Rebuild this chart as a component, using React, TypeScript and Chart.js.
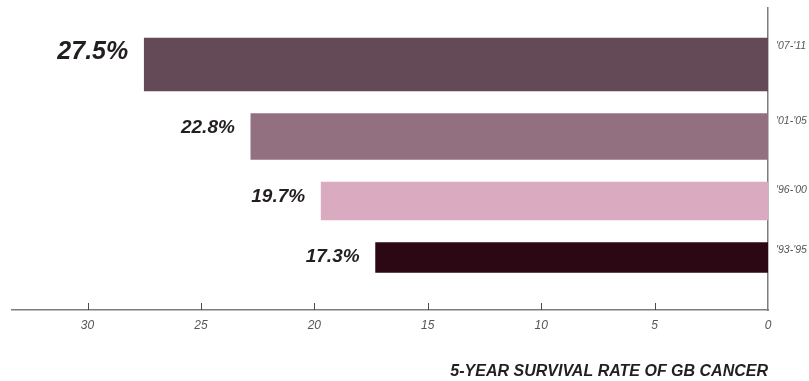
import React, { useEffect, useRef } from "react";
import { Chart, registerables } from "chart.js";

Chart.register(...registerables);

// Survival data, newest period first
const periods = ["'07-'11", "'01-'05", "'96-'00", "'93-'95"];
const survivalRates = [27.5, 22.8, 19.7, 17.3];
const rateTicks = [0, 5, 10, 15, 20, 25, 30];
const chartTitle = "5-YEAR SURVIVAL RATE OF GB CANCER";

// Styling and layout
const FONT = '"Liberation Sans", Arial, sans-serif';
const TEXT = "#231f20";
const AXIS = "#7d7d7d";
const barColors = ["#634a56", "#92707f", "#d9aac0", "#2b0813"];
const barThickness = [53, 46, 38, 30];
const labelSizes = [25, 19, 19, 19];
const BAR_GAP = 22.5;
const FIRST_BAR_OFFSET = 30;
const PLOT_HEIGHT = 302;
const RATE_MAX = 33.33;
const TITLE_SIZE = 16;
const TITLE_PAD_TOP = 10;
const BOTTOM_BAND = 71;
const RIGHT_BAND = 41;

// Rows are stacked top-down with a constant gap between bars of different thickness
function rowCenters(): number[] {
  const centers: number[] = [];
  let top = FIRST_BAR_OFFSET;
  barThickness.forEach((h) => {
    centers.push(top + h / 2);
    top += h + BAR_GAP;
  });
  return centers;
}

// Percentage labels to the left of each bar end
const valueLabels = {
  id: "valueLabels",
  afterDatasetsDraw(chart: any) {
    const { ctx } = chart;
    ctx.save();
    ctx.fillStyle = TEXT;
    ctx.textAlign = "right";
    ctx.textBaseline = "middle";
    chart.data.datasets.forEach((ds: any, i: number) => {
      const meta = chart.getDatasetMeta(i);
      meta.data.forEach((bar: any, j: number) => {
        const { x, y, height } = bar.getProps(["x", "y", "height"], true);
        ctx.font = `italic bold ${labelSizes[i]}px ${FONT}`;
        ctx.fillText(`${ds.data[j].x.toFixed(1)}%`, x - 16, y - height / 2 + 14.5);
      });
    });
    ctx.restore();
  },
};

// Short tick marks pointing up from the value axis
const innerTicks = {
  id: "innerTicks",
  afterDraw(chart: any) {
    const { ctx, chartArea } = chart;
    const xScale = chart.scales.x;
    ctx.save();
    ctx.strokeStyle = "#4a4a4a";
    ctx.lineWidth = 1;
    xScale.ticks.forEach((t: any) => {
      if (t.value === 0) return;
      const px = Math.round(xScale.getPixelForValue(t.value)) + 0.5;
      ctx.beginPath();
      ctx.moveTo(px, chartArea.bottom);
      ctx.lineTo(px, chartArea.bottom - 7);
      ctx.stroke();
    });
    ctx.restore();
  },
};

export default function App() {
  const canvasRef = useRef<HTMLCanvasElement | null>(null);

  useEffect(() => {
    if (!canvasRef.current) return;
    const centers = rowCenters();
    const periodTickValues = centers.map((c, i) => c - barThickness[i] / 2 + 8);

    const chart = new Chart(canvasRef.current, {
      type: "bar",
      data: {
        datasets: periods.map((p, i) => ({
          label: p,
          data: [{ x: survivalRates[i], y: centers[i] }],
          backgroundColor: barColors[i],
          borderWidth: 0,
          barThickness: barThickness[i],
          grouped: false,
        })),
      },
      options: {
        indexAxis: "y",
        animation: false,
        responsive: true,
        maintainAspectRatio: false,
        layout: { padding: { top: 8, left: 12, right: 0, bottom: 0 } },
        plugins: {
          legend: { display: false },
          tooltip: { enabled: false },
          title: {
            display: true,
            text: chartTitle,
            position: "bottom",
            align: "end",
            fullSize: false,
            color: TEXT,
            font: { family: FONT, size: TITLE_SIZE, weight: "bold", style: "italic" },
            padding: { top: TITLE_PAD_TOP, bottom: 0 },
          },
        },
        scales: {
          x: {
            type: "linear",
            reverse: true,
            min: 0,
            max: RATE_MAX,
            position: "bottom",
            grid: { display: false, drawTicks: false },
            border: { display: true, color: AXIS, width: 1.5 },
            afterBuildTicks: (scale: any) => {
              scale.ticks = rateTicks.map((v) => ({ value: v }));
            },
            afterFit: (scale: any) => {
              scale.height = BOTTOM_BAND - (TITLE_SIZE * 1.2 + TITLE_PAD_TOP);
              scale.paddingLeft = 0;
              scale.paddingRight = 0;
            },
            ticks: {
              autoSkip: false,
              maxRotation: 0,
              padding: 8.5,
              color: "#555555",
              font: { family: FONT, size: 12, style: "italic" },
              callback: (v: any) => String(v),
            },
          },
          y: {
            type: "linear",
            position: "right",
            reverse: true,
            min: 0,
            max: PLOT_HEIGHT,
            offset: false,
            grid: { display: false, drawTicks: false },
            border: { display: true, color: AXIS, width: 1.5 },
            afterBuildTicks: (scale: any) => {
              scale.ticks = periodTickValues.map((v) => ({ value: v }));
            },
            afterFit: (scale: any) => {
              scale.width = RIGHT_BAND;
              scale.paddingTop = 0;
              scale.paddingBottom = 0;
            },
            ticks: {
              autoSkip: false,
              padding: 8,
              color: "#555555",
              font: { family: FONT, size: 10.5, style: "italic" },
              callback: (_v: any, i: number) => periods[i],
            },
          },
        },
      } as any,
      plugins: [valueLabels, innerTicks],
    });

    return () => chart.destroy();
  }, []);

  return (
    <div style={{ position: "absolute", left: 0, top: 0, width: 809, height: 381, background: "#ffffff" }}>
      <canvas ref={canvasRef} />
    </div>
  );
}
